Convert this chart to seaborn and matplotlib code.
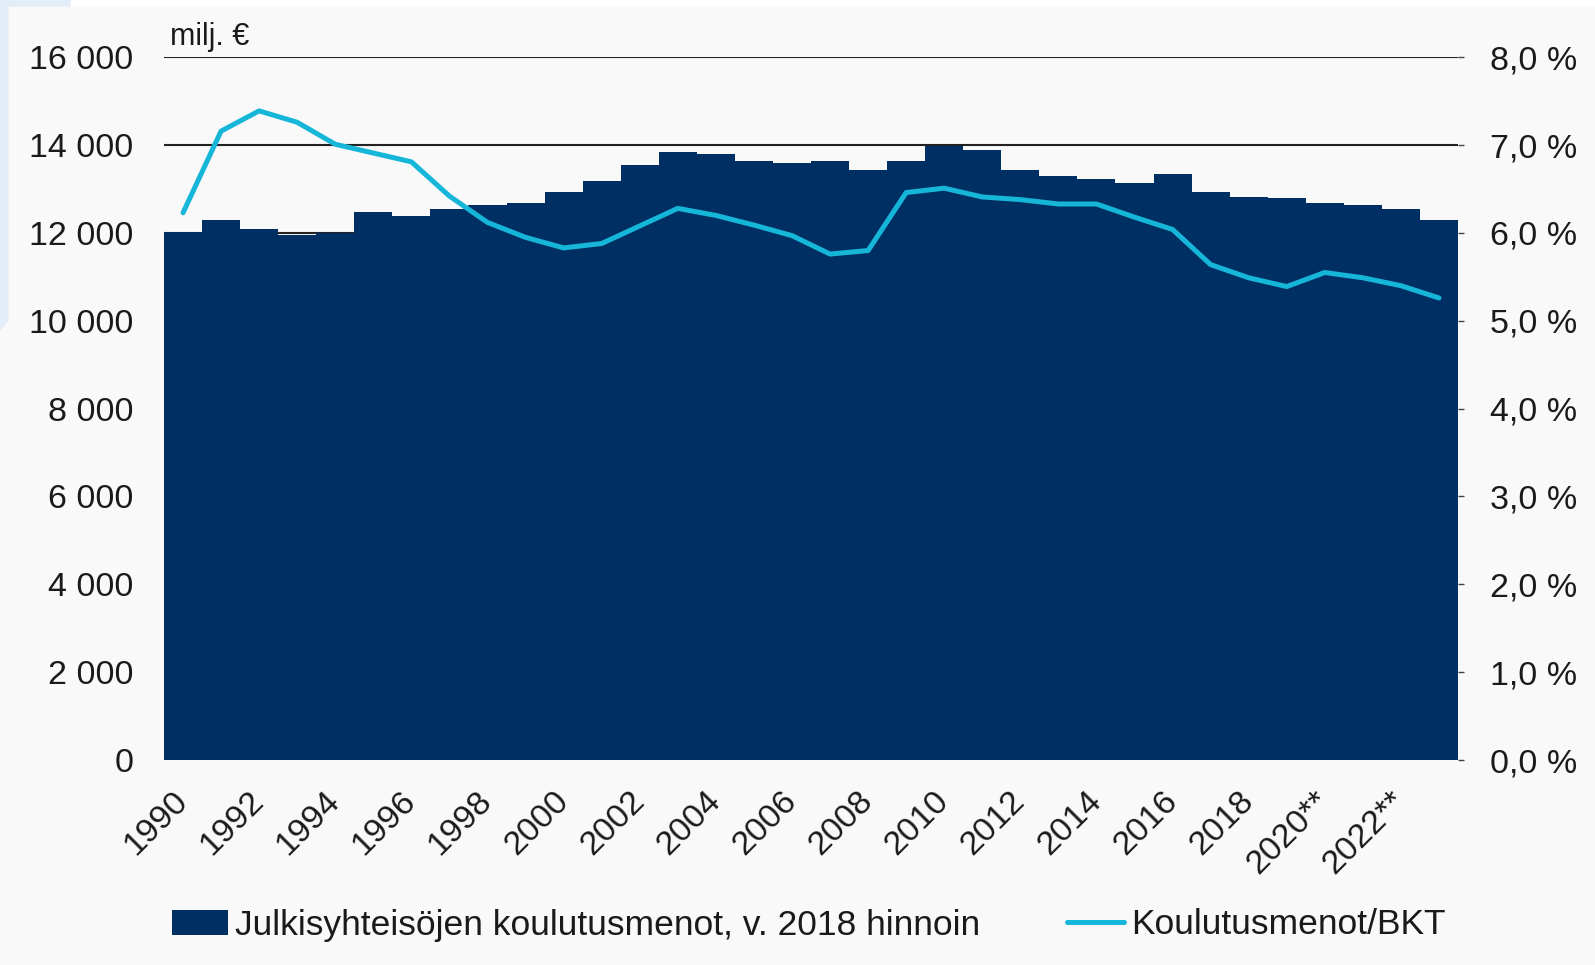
import matplotlib
matplotlib.use("Agg")
import matplotlib.pyplot as plt
import seaborn as sns
import pandas as pd
from matplotlib.patches import Patch, Polygon, Rectangle
from matplotlib.lines import Line2D

# ---- data ----
years = list(range(1990, 2024))
expenditure = [12030, 12290, 12100, 11960, 12000, 12480, 12390, 12540, 12630, 12680,
               12940, 13190, 13540, 13840, 13800, 13640, 13600, 13640, 13440, 13640,
               13970, 13900, 13440, 13290, 13240, 13140, 13350, 12940, 12830, 12790,
               12690, 12640, 12550, 12290]
gdp_share = [6.23, 7.16, 7.39, 7.26, 7.01, 6.91, 6.81, 6.42, 6.12, 5.95,
             5.83, 5.88, 6.08, 6.28, 6.20, 6.09, 5.97, 5.76, 5.80, 6.46,
             6.51, 6.41, 6.38, 6.33, 6.33, 6.18, 6.04, 5.64, 5.49, 5.39,
             5.55, 5.49, 5.40, 5.26]
tick_labels = ["1990", "1992", "1994", "1996", "1998", "2000", "2002", "2004", "2006",
               "2008", "2010", "2012", "2014", "2016", "2018", "2020**", "2022**"]
left_ticks = [0, 2000, 4000, 6000, 8000, 10000, 12000, 14000, 16000]
right_ticks = [0, 1, 2, 3, 4, 5, 6, 7, 8]
bar_label = "Julkisyhteisöjen koulutusmenot, v. 2018 hinnoin"
line_label = "Koulutusmenot/BKT"
unit_label = "milj. €"

BAR_C = "#003063"
LINE_C = "#16b6d9"
TXT_C = "#1a1a1a"
BG = "#f9f9f9"
FS = 24.5

sns.set_style("white")
plt.rcParams["font.family"] = ["Liberation Sans", "DejaVu Sans"]

df = pd.DataFrame({"year": [str(y) for y in years], "exp": expenditure,
                   "pos": list(range(len(years))), "pct": gdp_share})

fig = plt.figure(figsize=(15.95, 9.65), dpi=100, facecolor=BG)
W, H = 1595, 965
# decorative light-blue edge at the left / white strip at top
fig.add_artist(Rectangle((70 / W, 1 - 6 / H), 1, 6 / H, transform=fig.transFigure,
                         color="white", zorder=0))
fig.add_artist(Polygon([(0, 1), (70 / W, 1), (70 / W, 1 - 6 / H), (8 / W, 1 - 6 / H),
                        (8 / W, 1 - 320 / H), (0, 1 - 330 / H)],
                       closed=True, transform=fig.transFigure, color="#e2edf8", zorder=0))

ax = fig.add_axes([164 / W, 1 - 760 / H, (1458 - 164) / W, (760 - 57.3) / H])
ax.set_facecolor(BG)
sns.barplot(data=df, x="year", y="exp", color=BAR_C, saturation=1, width=1.0,
            ax=ax, zorder=2, linewidth=0)
ax.set_xlim(-0.5, len(years) - 0.5)
ax.set_ylim(0, 16000)
ax.set_yticks(left_ticks)
ax.set_yticklabels([f"{v:,}".replace(",", " ") for v in left_ticks])
ax.grid(axis="y", color="#222222", linewidth=1.5, zorder=1)
ax.grid(axis="x", visible=False)
ax.set_axisbelow(True)
ax.set_xticks(list(range(0, len(years), 2)))
ax.set_xticklabels(tick_labels, rotation=45, ha="right", va="center",
                   rotation_mode="anchor")
ax.tick_params(axis="x", length=0, pad=26, labelsize=FS, labelcolor=TXT_C)
ax.tick_params(axis="y", length=0, pad=22, labelsize=FS, labelcolor=TXT_C)
ax.set_xlabel("")
ax.set_ylabel("")
for s in ax.spines.values():
    s.set_visible(False)

ax2 = ax.twinx()
sns.lineplot(data=df, x="pos", y="pct", color=LINE_C, linewidth=3.6, ax=ax2,
             zorder=3)
ax2.set_ylim(0, 8)
ax2.set_xlim(-0.5, len(years) - 0.5)
ax2.set_yticks(right_ticks)
ax2.set_yticklabels([f"{v:.1f} %".replace(".", ",") for v in right_ticks])
ax2.tick_params(axis="y", length=4, width=1, color="#444444", direction="out",
                pad=19, labelsize=FS, labelcolor=TXT_C)
ax2.set_ylabel("")
ax2.set_xlabel("")
ax2.grid(False)
for s in ax2.spines.values():
    s.set_visible(False)

fig.text(170 / W, 1 - 45 / H, unit_label, fontsize=22, color=TXT_C, va="baseline")

handles = [Patch(facecolor=BAR_C, edgecolor="none", label=bar_label),
           Line2D([0], [0], color=LINE_C, linewidth=3.6, label=line_label)]
fig.legend(handles=handles, loc="center", bbox_to_anchor=(0.507, 1 - 925 / H),
           ncol=2, frameon=False, fontsize=25.5, handlelength=1.6,
           handletextpad=0.2, columnspacing=2.45, labelcolor=TXT_C)

fig.savefig("out.png", dpi=100, facecolor=BG)
